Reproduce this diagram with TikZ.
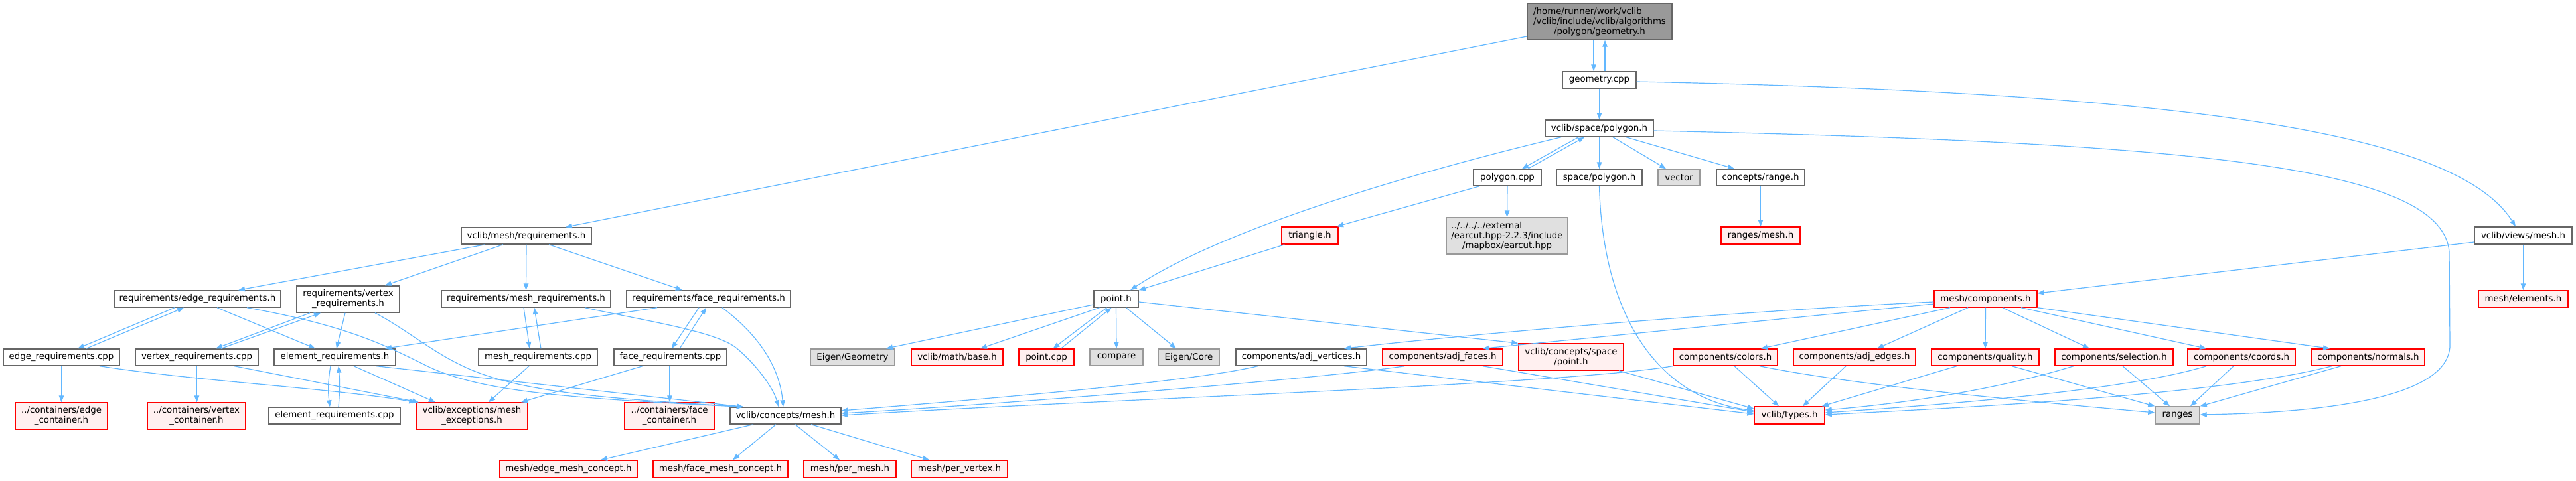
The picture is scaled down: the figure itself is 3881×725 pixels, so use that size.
\documentclass[tikz,border=0pt]{standalone}
\usepackage{fontspec}
\setmainfont{DejaVu Sans}
\usetikzlibrary{arrows.meta}
\definecolor{eblue}{HTML}{63B8FF}
\definecolor{topfill}{HTML}{999999}
\definecolor{dgray}{HTML}{666666}
\definecolor{lgray}{HTML}{999999}
\definecolor{extfill}{HTML}{E0E0E0}
\definecolor{redfill}{HTML}{FFF0F0}
\definecolor{redline}{HTML}{FF0000}
\tikzset{
  box/.style={draw, line width=1.4pt, inner sep=0pt, align=center, text=black,
    font=\fontsize{13.33pt}{15pt}\selectfont},
  nodetop/.style={box, draw=dgray, fill=topfill},
  nodedoc/.style={box, draw=dgray, fill=white},
  nodeext/.style={box, draw=lgray, fill=extfill},
  nodered/.style={box, draw=redline, fill=redfill},
  dep/.style={draw=eblue, line width=1.2pt, -{Triangle[length=10pt,width=7.5pt]}},
}
\newcommand\gnode[7]{\node[#6,minimum width={#4pt-#2pt},minimum height={#5pt-#3pt}] (#1) at ({(#2+#4)/2},{(#3+#5)/2}) {#7};}
\begin{document}
\begin{tikzpicture}[x=1pt,y=-1pt]
\path[use as bounding box, fill=white] (0,0) rectangle (3881,725);
% nodes
\gnode{geo}{2301}{5}{2519}{60}{nodetop}{\rlap{/home/runner/work/vclib}\phantom{/vclib/include/vclib/algorithms}\\/vclib/include/vclib/algorithms\\/polygon/geometry.h}
\gnode{gcpp}{2354}{108}{2465}{133}{nodedoc}{geometry.cpp}
\gnode{spoly}{2328}{181}{2491}{206}{nodedoc}{vclib/space/polygon.h}
\gnode{pcpp}{2220}{255}{2322}{280}{nodedoc}{polygon.cpp}
\gnode{spolyb}{2345}{255}{2474}{280}{nodedoc}{space/polygon.h}
\gnode{vec}{2498}{255}{2561}{280}{nodeext}{vector}
\gnode{crange}{2586}{255}{2719}{280}{nodedoc}{concepts/range.h}
\gnode{earcut}{2179}{328}{2362}{383}{nodeext}{\rlap{../../../../external}\phantom{/earcut.hpp-2.2.3/include}\\/earcut.hpp-2.2.3/include\\/mapbox/earcut.hpp}
\gnode{rmesh}{2593}{342}{2712}{368}{nodered}{ranges/mesh.h}
\gnode{tri}{1931}{342}{2016}{368}{nodered}{triangle.h}
\gnode{req}{695}{343}{891}{368}{nodedoc}{vclib/mesh/requirements.h}
\gnode{vmesh}{3728}{342}{3875}{368}{nodedoc}{vclib/views/mesh.h}
\gnode{ereqh}{172}{438}{423}{463}{nodedoc}{requirements/edge\_requirements.h}
\gnode{vreqh}{447}{431}{602}{471}{nodedoc}{requirements/vertex\\\_requirements.h}
\gnode{mreqh}{665}{438}{920}{463}{nodedoc}{requirements/mesh\_requirements.h}
\gnode{freqh}{944}{438}{1191}{463}{nodedoc}{requirements/face\_requirements.h}
\gnode{pointh}{1648}{438}{1715}{463}{nodedoc}{point.h}
\gnode{comps}{2914}{438}{3069}{463}{nodered}{mesh/components.h}
\gnode{elems}{3734}{438}{3869}{463}{nodered}{mesh/elements.h}
\gnode{ereqcpp}{5}{526}{180}{551}{nodedoc}{edge\_requirements.cpp}
\gnode{vreqcpp}{204}{526}{389}{551}{nodedoc}{vertex\_requirements.cpp}
\gnode{elreqh}{413}{526}{596}{551}{nodedoc}{element\_requirements.h}
\gnode{mreqcpp}{721}{526}{900}{551}{nodedoc}{mesh\_requirements.cpp}
\gnode{freqcpp}{925}{526}{1095}{551}{nodedoc}{face\_requirements.cpp}
\gnode{egeom}{1221}{526}{1348}{551}{nodeext}{Eigen/Geometry}
\gnode{mbase}{1373}{526}{1511}{551}{nodered}{vclib/math/base.h}
\gnode{pcppt}{1535}{526}{1618}{551}{nodered}{point.cpp}
\gnode{cmp}{1642}{526}{1722}{551}{nodeext}{compare}
\gnode{ecore}{1745}{526}{1837}{551}{nodeext}{Eigen/Core}
\gnode{adjv}{1862}{526}{2059}{551}{nodedoc}{components/adj\_vertices.h}
\gnode{adjf}{2083}{526}{2264}{551}{nodered}{components/adj\_faces.h}
\gnode{cspt}{2288}{518}{2446}{558}{nodered}{vclib/concepts/space\\/point.h}
\gnode{colors}{2521}{526}{2678}{551}{nodered}{components/colors.h}
\gnode{adje}{2702}{526}{2886}{551}{nodered}{components/adj\_edges.h}
\gnode{qual}{2910}{526}{3072}{551}{nodered}{components/quality.h}
\gnode{sel}{3096}{526}{3274}{551}{nodered}{components/selection.h}
\gnode{coords}{3296}{526}{3458}{551}{nodered}{components/coords.h}
\gnode{normals}{3483}{526}{3653}{551}{nodered}{components/normals.h}
\gnode{econt}{23}{607}{162}{647}{nodered}{../containers/edge\\\_container.h}
\gnode{vcont}{222}{607}{370}{647}{nodered}{../containers/vertex\\\_container.h}
\gnode{elreqcpp}{405}{614}{603}{639}{nodedoc}{element\_requirements.cpp}
\gnode{mexc}{627}{607}{795}{647}{nodered}{vclib/exceptions/mesh\\\_exceptions.h}
\gnode{fcont}{941}{607}{1076}{647}{nodered}{../containers/face\\\_container.h}
\gnode{cmesh}{1100}{614}{1267}{639}{nodedoc}{vclib/concepts/mesh.h}
\gnode{types}{2643}{613}{2749}{639}{nodered}{vclib/types.h}
\gnode{ranges}{3247}{613}{3314}{639}{nodeext}{ranges}
\gnode{emc}{753}{694}{960}{720}{nodered}{mesh/edge\_mesh\_concept.h}
\gnode{fmc}{984}{694}{1187}{720}{nodered}{mesh/face\_mesh\_concept.h}
\gnode{pmesh}{1211}{694}{1350}{720}{nodered}{mesh/per\_mesh.h}
\gnode{pvert}{1373}{694}{1518}{720}{nodered}{mesh/per\_vertex.h}
% edges: top part
\draw[dep] ([yshift=-22.5pt]geo.west) -- ([xshift=59pt]req.north);
\draw[dep] ([xshift=-9pt]geo.south) -- ([xshift=-8.5pt]gcpp.north);
\draw[dep] ([xshift=8.5pt]gcpp.north) -- ([xshift=8pt]geo.south);
\draw[dep] (gcpp.south) -- (spoly.north);
\draw[dep] ([yshift=-2.5pt]gcpp.east) .. controls (3300,140) and (3700,200) .. ([xshift=-11.5pt]vmesh.north);
\draw[dep] ([xshift=-31.5pt]spoly.south) -- ([xshift=22pt]pcpp.north);
\draw[dep] ([xshift=31pt]pcpp.north) -- ([xshift=-22.5pt]spoly.south);
\draw[dep] (spoly.south) -- (spolyb.north);
\draw[dep] ([xshift=20.5pt]spoly.south) -- ([xshift=-19.5pt]vec.north);
\draw[dep] ([xshift=40.5pt]spoly.south) -- ([xshift=-39.5pt]crange.north);
\draw[dep] ([xshift=-57.5pt]spoly.south) .. controls (2150,255) and (1850,340) .. ([xshift=21.5pt]pointh.north);
\draw[dep] ([yshift=-3.5pt]spoly.east) .. controls (3300,215) and (3680,250) .. (3690,380) -- (3691,520) .. controls (3691,600) and (3500,622) .. ([yshift=1pt]ranges.east);
\draw[dep] (pcpp.south) -- (earcut.north);
\draw[dep] ([xshift=-42pt]pcpp.south) -- ([xshift=40.5pt]tri.north);
\draw[dep] (spolyb.south) .. controls (2415,480) and (2500,600) .. ([yshift=7pt]types.west);
\draw[dep] (crange.south) -- (rmesh.north);
\draw[dep] ([xshift=5pt]tri.south west) -- (pointh.north east);
% point.h
\draw[dep] ([yshift=-8.5pt]pointh.west) -- ([xshift=50.5pt]egeom.north);
\draw[dep] ([xshift=-25pt]pointh.south) -- ([xshift=35pt]mbase.north);
\draw[dep] ([xshift=-14pt]pointh.south) -- ([xshift=10pt]pcppt.north);
\draw[dep] ([xshift=22pt]pcppt.north) -- ([xshift=-7pt]pointh.south);
\draw[dep] (pointh.south) -- (cmp.north);
\draw[dep] ([xshift=15pt]pointh.south) -- ([xshift=-19pt]ecore.north);
\draw[dep] ([yshift=-4.5pt]pointh.east) -- (cspt.north west);
% requirements
\draw[dep] ([xshift=-62pt]req.south) -- ([xshift=61.5pt]ereqh.north);
\draw[dep] ([xshift=-35pt]req.south) -- ([xshift=55.5pt]vreqh.north);
\draw[dep] (req.south) -- (mreqh.north);
\draw[dep] ([xshift=34pt]req.south) -- ([xshift=-39.5pt]freqh.north);
\draw[dep] ([xshift=-34.5pt]ereqh.south) -- ([xshift=24.5pt]ereqcpp.north);
\draw[dep] ([xshift=37.5pt]ereqcpp.north) -- ([xshift=-20.5pt]ereqh.south);
\draw[dep] ([xshift=29.5pt]ereqh.south) -- ([xshift=-29.5pt]elreqh.north);
\draw[dep] ([xshift=74.5pt]ereqh.south) .. controls (520,490) and (580,520) .. (640,550) .. controls (720,590) and (850,600) .. ([xshift=-63.5pt]cmesh.north);
\draw[dep] ([xshift=-57.5pt]vreqh.south) -- ([xshift=28.5pt]vreqcpp.north);
\draw[dep] ([xshift=36.5pt]vreqcpp.north) -- ([xshift=-41.5pt]vreqh.south);
\draw[dep] ([xshift=-4.5pt]vreqh.south) -- ([xshift=2.5pt]elreqh.north);
\draw[dep] ([xshift=40.5pt]vreqh.south) .. controls (610,495) and (650,530) .. (700,553) .. controls (780,590) and (900,600) .. ([xshift=-63.5pt]cmesh.north);
\draw[dep] ([xshift=-3.5pt]mreqh.south) -- ([xshift=-12.5pt]mreqcpp.north);
\draw[dep] ([xshift=4.5pt]mreqcpp.north) -- ([xshift=12.5pt]mreqh.south);
\draw[dep] ([xshift=88.5pt]mreqh.south) .. controls (980,485) and (1080,500) .. (1110,525) .. controls (1140,550) and (1165,585) .. ([xshift=-10.5pt]cmesh.north);
\draw[dep] ([xshift=-14.5pt]freqh.south) -- ([xshift=2pt]freqcpp.north);
\draw[dep] ([xshift=14pt]freqcpp.north) -- ([xshift=-3.5pt]freqh.south);
\draw[dep] ([xshift=-77.5pt]freqh.south) -- ([xshift=75.5pt]elreqh.north);
\draw[dep] ([xshift=20.5pt]freqh.south) .. controls (1150,510) and (1175,560) .. ([xshift=-3.5pt]cmesh.north);
\draw[dep] ([xshift=-6.5pt]elreqh.south) .. controls (494,575) and (494,590) .. ([xshift=-7pt]elreqcpp.north);
\draw[dep] ([xshift=6pt]elreqcpp.north) .. controls (512,590) and (512,575) .. ([xshift=5.5pt]elreqh.south);
\draw[dep] ([xshift=28.5pt]elreqh.south) -- ([xshift=-55pt]mexc.north);
\draw[dep] ([xshift=62.5pt]elreqh.south) -- ([xshift=-63.5pt]cmesh.north);
\draw[dep] (ereqcpp.south) -- (econt.north);
\draw[dep] ([xshift=57.5pt]ereqcpp.south) .. controls (300,575) and (500,585) .. (mexc.north west);
\draw[dep] (vreqcpp.south) -- ([xshift=0.5pt]vcont.north);
\draw[dep] ([xshift=56.5pt]vreqcpp.south) -- ([xshift=-80pt]mexc.north);
\draw[dep] ([xshift=-13.5pt]mreqcpp.south) -- ([xshift=25pt]mexc.north);
\draw[dep] ([xshift=-42pt]freqcpp.south) -- ([xshift=74pt]mexc.north);
\draw[dep] ([xshift=-1pt]freqcpp.south) -- ([xshift=0.5pt]fcont.north);
% concepts/mesh.h
\draw[dep] ([xshift=-48.5pt]cmesh.south) -- ([xshift=48.5pt]emc.north);
\draw[dep] ([xshift=-14.5pt]cmesh.south) -- ([xshift=18.5pt]fmc.north);
\draw[dep] ([xshift=14.5pt]cmesh.south) -- ([xshift=-15.5pt]pmesh.north);
\draw[dep] ([xshift=38.5pt]cmesh.south) -- ([xshift=-45.5pt]pvert.north);
% components
\draw[dep] ([xshift=-65.5pt]adjv.south) .. controls (1800,575) and (1500,600) .. ([yshift=7.5pt]cmesh.east);
\draw[dep] ([xshift=-57.5pt]adjf.south) .. controls (2000,570) and (1500,610) .. ([yshift=3.5pt]cmesh.east);
\draw[dep] (colors.south west) .. controls (2350,580) and (1700,600) .. ([yshift=0.5pt]cmesh.east);
\draw[dep] ([xshift=64.5pt]adjv.south) -- ([yshift=2pt]types.west);
\draw[dep] ([xshift=60.5pt]adjf.south) -- ([yshift=5pt]types.west);
\draw[dep] ([xshift=72pt]cspt.south) -- ([yshift=10pt]types.west);
\draw[dep] ([xshift=13.5pt]colors.south) -- ([xshift=-16pt]types.north);
\draw[dep] ([xshift=51.5pt]colors.south) .. controls (2780,578) and (3000,600) .. ([yshift=4pt]ranges.west);
\draw[dep] ([xshift=-13pt]adje.south) -- ([xshift=20pt]types.north);
\draw[dep] ([xshift=-43pt]qual.south) -- ([xshift=-5pt]types.north east);
\draw[dep] ([xshift=-61pt]sel.south) .. controls (3000,590) and (2850,610) .. ([yshift=8pt]types.east);
\draw[dep] ([xshift=-53pt]coords.south) .. controls (3200,590) and (2900,612) .. ([yshift=4pt]types.east);
\draw[dep] ([xshift=-55pt]normals.south) .. controls (3350,595) and (2950,615) .. ([yshift=1pt]types.east);
\draw[dep] ([xshift=40pt]qual.south) -- (ranges.north west);
\draw[dep] ([xshift=13pt]sel.south) -- ([xshift=-11.5pt]ranges.north);
\draw[dep] ([xshift=-12pt]coords.south) -- ([xshift=19.5pt]ranges.north);
\draw[dep] ([xshift=-41pt]normals.south) -- (ranges.north east);
\draw[dep] ([yshift=-4.5pt]comps.west) .. controls (2600,470) and (2200,505) .. ([xshift=64.5pt]adjv.north);
\draw[dep] ([yshift=-7.5pt]comps.west) -- ([xshift=60.5pt]adjf.north);
\draw[dep] ([xshift=-53.5pt]comps.south) -- ([xshift=53.5pt]colors.north);
\draw[dep] ([xshift=-26.5pt]comps.south) -- ([xshift=34pt]adje.north);
\draw[dep] (comps.south) -- (qual.north);
\draw[dep] ([xshift=25.5pt]comps.south) -- ([xshift=-37pt]sel.north);
\draw[dep] ([xshift=53.5pt]comps.south) -- ([xshift=-53pt]coords.north);
\draw[dep] (comps.south east) -- ([xshift=-58pt]normals.north);
\draw[dep] ([yshift=-10pt]vmesh.west) -- ([yshift=8.5pt]comps.east);
\draw[dep] (vmesh.south) -- (elems.north);
\end{tikzpicture}
\end{document}
